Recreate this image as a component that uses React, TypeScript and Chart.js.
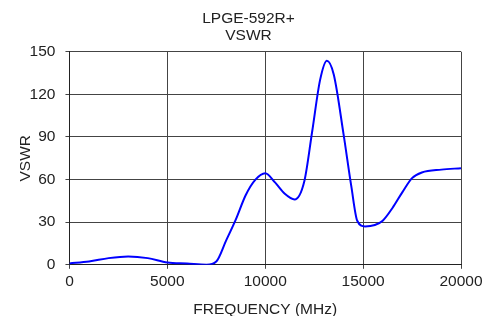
import React, { useEffect, useRef } from "react";
import { Chart, registerables } from "chart.js";

Chart.register(...registerables);

const titleLines = ["LPGE-592R+", "VSWR"];
const xAxisTitle = "FREQUENCY (MHz)";
const yAxisTitle = "VSWR";

const frequencies = [0, 1000, 2000, 3000, 4000, 5000, 6000, 7000, 7500, 8000, 8500, 9000, 9500, 10000, 10500, 11000, 11500, 12000, 12400, 12800, 13150, 13500, 14000, 14400, 14700, 15100, 15600, 16000, 16500, 17000, 17500, 18000, 19000, 20000];
const vswr = [1, 2.3, 4.7, 5.9, 4.7, 1.6, 0.9, 0.1, 2.3, 17, 32, 49, 60, 64.5, 58, 50, 46, 59, 94, 130, 143.7, 134, 92, 55, 31, 27, 28, 31, 40, 51, 61, 65, 67, 68];

const xTicks = [0, 5000, 10000, 15000, 20000];
const yTicks = [0, 30, 60, 90, 120, 150];

export default function App() {
  const ref = useRef<HTMLCanvasElement | null>(null);
  useEffect(() => {
    if (!ref.current) return;
    const font = "'Liberation Sans', Arial, sans-serif";
    const chart = new Chart(ref.current, {
      type: "line",
      data: {
        datasets: [
          {
            data: frequencies.map((f, i) => ({ x: f, y: vswr[i] })),
            borderColor: "#0000ff",
            borderWidth: 2,
            pointRadius: 0,
            cubicInterpolationMode: "monotone",
            fill: false,
          },
        ],
      },
      options: {
        animation: false,
        responsive: false,
        devicePixelRatio: 1,
        layout: { padding: { left: 8, right: 8, top: 0, bottom: 0 } },
        plugins: {
          legend: { display: false },
          tooltip: { enabled: false },
          title: {
            display: true,
            text: titleLines,
            color: "#222",
            font: { family: font, size: 15.5, weight: "normal", lineHeight: 1.12 },
            padding: { top: 10, bottom: 7 },
          },
        },
        scales: {
          x: {
            type: "linear",
            min: 0,
            max: 20000,
            afterBuildTicks: (s: any) => {
              s.ticks = xTicks.map((v) => ({ value: v }));
            },
            afterFit: (s: any) => {
              s.paddingRight = 36;
            },
            ticks: {
              color: "#222",
              font: { family: font, size: 15.5 },
              padding: 4,
              maxRotation: 0,
              callback: (v: any) => String(v),
            },
            grid: { color: "#444", lineWidth: 1, tickLength: 4, tickColor: "#444" },
            border: { color: "#222", width: 1 },
            title: {
              display: true,
              text: xAxisTitle,
              color: "#222",
              font: { family: font, size: 15.5 },
              padding: { top: 5, bottom: -3 },
            },
          },
          y: {
            type: "linear",
            min: 0,
            max: 150,
            afterBuildTicks: (s: any) => {
              s.ticks = yTicks.map((v) => ({ value: v }));
            },
            ticks: {
              color: "#222",
              font: { family: font, size: 15.5 },
              padding: 10,
            },
            grid: { color: "#444", lineWidth: 1, tickLength: 4, tickColor: "#444" },
            border: { color: "#222", width: 1 },
            title: {
              display: true,
              text: yAxisTitle,
              color: "#222",
              font: { family: font, size: 15.5 },
              padding: { top: 8, bottom: -15 },
            },
          },
        },
      },
    });
    return () => chart.destroy();
  }, []);
  return (
    <div style={{ position: "fixed", left: 0, top: 0, width: 497, height: 316, background: "#fff" }}>
      <canvas ref={ref} width={497} height={316} style={{ width: 497, height: 316 }} />
    </div>
  );
}
